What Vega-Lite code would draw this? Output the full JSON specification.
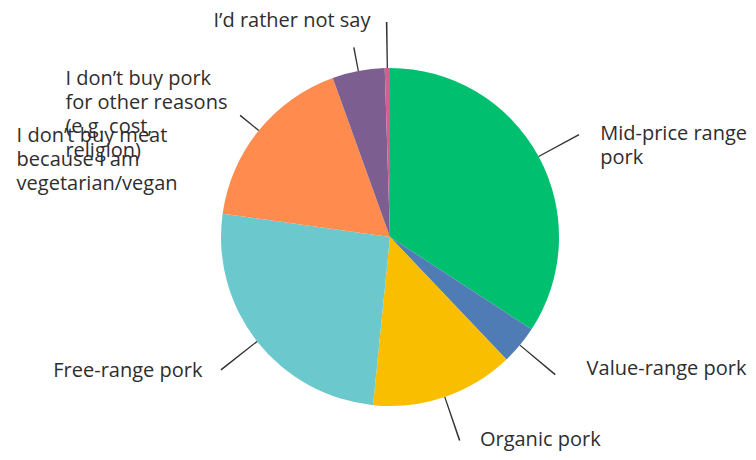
{
  "$schema": "https://vega.github.io/schema/vega-lite/v6.json",
  "width": 756,
  "height": 460,
  "autosize": {"type": "fit", "contains": "padding"},
  "padding": {"left": 24, "top": 14, "right": 0, "bottom": 0},
  "background": "white",
  "view": {"stroke": null},
  "config": {"text": {"font": "Open Sans", "fontSize": 20, "fill": "#2e2e2e", "lineBreak": "\n", "lineHeight": 24}},
  "data": {
    "values": [
      {"category": "Mid-price range\npork", "value": 34.2},
      {"category": "Value-range pork", "value": 3.7},
      {"category": "Organic pork", "value": 13.7},
      {"category": "Free-range pork", "value": 25.6},
      {"category": "I don’t buy meat\nbecause I am\nvegetarian/vegan", "value": 17.3},
      {"category": "I don’t buy pork\nfor other reasons\n(e.g. cost,\nreligion)", "value": 5.0},
      {"category": "I’d rather not say", "value": 0.5}
    ]
  },
  "transform": [
    {"window": [{"op": "sum", "field": "value", "as": "cum"}, {"op": "row_number", "as": "rank"}]},
    {"calculate": "datum.cum - datum.value", "as": "start"},
    {"calculate": "datum.cum - datum.value / 2", "as": "mid"},
    {"calculate": "datum.mid - 0.06", "as": "l1"},
    {"calculate": "datum.mid + 0.06", "as": "l2"}
  ],
  "layer": [
    {
      "mark": {"type": "arc", "outerRadius": 169},
      "encoding": {
        "theta": {"field": "start", "type": "quantitative", "scale": {"domain": [0, 100], "range": [0, 6.283185307179586]}},
        "theta2": {"field": "cum"},
        "color": {
          "field": "category",
          "type": "nominal",
          "legend": null,
          "scale": {
            "domain": ["Mid-price range\npork", "Value-range pork", "Organic pork", "Free-range pork", "I don’t buy meat\nbecause I am\nvegetarian/vegan", "I don’t buy pork\nfor other reasons\n(e.g. cost,\nreligion)", "I’d rather not say"],
            "range": ["#00BF6F", "#507CB6", "#F9BE00", "#6BC8CD", "#FF8B4F", "#7D5E90", "#D25F90"]
          }
        }
      }
    },
    {
      "transform": [{"filter": "datum.rank != 6 && datum.rank != 5"}],
      "mark": {"type": "arc", "innerRadius": 169, "outerRadius": 215, "fill": "#333333"},
      "encoding": {
        "theta": {"field": "l1", "type": "quantitative"},
        "theta2": {"field": "l2"}
      }
    },
    {
      "transform": [{"filter": "datum.rank == 6 || datum.rank == 5"}],
      "mark": {"type": "arc", "innerRadius": 169, "outerRadius": 193, "fill": "#333333"},
      "encoding": {
        "theta": {"field": "l1", "type": "quantitative"},
        "theta2": {"field": "l2"}
      }
    },
    {
      "transform": [{"filter": "datum.rank == 1"}],
      "mark": {"type": "text", "radius": 222, "align": "left", "baseline": "alphabetic", "dx": 15, "dy": 9},
      "encoding": {"theta": {"field": "mid", "type": "quantitative"}, "text": {"field": "category"}}
    },
    {
      "transform": [{"filter": "datum.rank == 2"}],
      "mark": {"type": "text", "radius": 222, "align": "left", "baseline": "alphabetic", "dx": 26, "dy": -4},
      "encoding": {"theta": {"field": "mid", "type": "quantitative"}, "text": {"field": "category"}}
    },
    {
      "transform": [{"filter": "datum.rank == 3"}],
      "mark": {"type": "text", "radius": 222, "align": "left", "baseline": "alphabetic", "dx": 18, "dy": -1},
      "encoding": {"theta": {"field": "mid", "type": "quantitative"}, "text": {"field": "category"}}
    },
    {
      "transform": [{"filter": "datum.rank == 4"}],
      "mark": {"type": "text", "radius": 222, "align": "right", "baseline": "alphabetic", "dx": -13, "dy": 3},
      "encoding": {"theta": {"field": "mid", "type": "quantitative"}, "text": {"field": "category"}}
    },
    {
      "transform": [{"filter": "datum.rank == 6"}],
      "mark": {"type": "text", "radius": 222, "align": "left", "baseline": "alphabetic", "dx": -283, "dy": 66},
      "encoding": {"theta": {"field": "mid", "type": "quantitative"}, "text": {"field": "category"}}
    },
    {
      "transform": [{"filter": "datum.rank == 5"}],
      "mark": {"type": "text", "radius": 222, "align": "left", "baseline": "alphabetic", "dx": -201, "dy": 45},
      "encoding": {"theta": {"field": "mid", "type": "quantitative"}, "text": {"field": "category"}}
    },
    {
      "transform": [{"filter": "datum.rank == 7"}],
      "mark": {"type": "text", "radius": 222, "align": "right", "baseline": "alphabetic", "dx": -16, "dy": 12},
      "encoding": {"theta": {"field": "mid", "type": "quantitative"}, "text": {"field": "category"}}
    }
  ]
}
